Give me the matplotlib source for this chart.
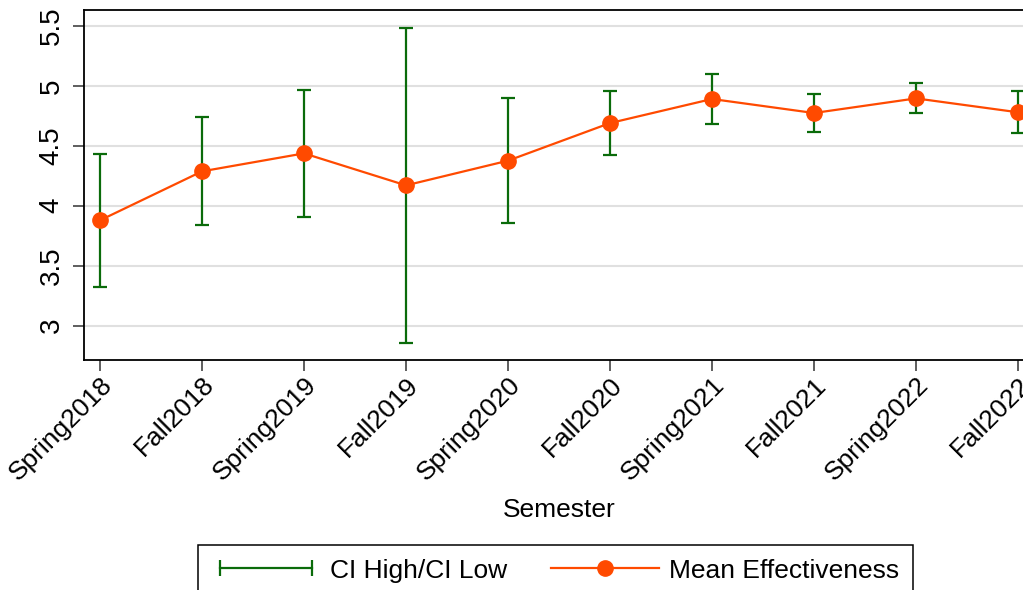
import matplotlib; matplotlib.use("Agg")
import matplotlib.pyplot as plt
from matplotlib.lines import Line2D
from matplotlib.legend_handler import HandlerLine2D

semesters = ["Spring2018", "Fall2018", "Spring2019", "Fall2019", "Spring2020",
             "Fall2020", "Spring2021", "Fall2021", "Spring2022", "Fall2022"]
mean_eff = [3.878, 4.287, 4.437, 4.170, 4.376, 4.690, 4.891, 4.774, 4.896, 4.780]
ci_high  = [4.434, 4.738, 4.968, 5.483, 4.902, 4.955, 5.099, 4.930, 5.024, 4.957]
ci_low   = [3.319, 3.842, 3.908, 2.854, 3.853, 4.426, 4.684, 4.618, 4.771, 4.604]
yticks = [3, 3.5, 4, 4.5, 5, 5.5]
ytick_labels = ["3", "3.5", "4", "4.5", "5", "5.5"]

GREEN = "#0a6b0a"; ORANGE = "#ff4a00"
plt.rcParams["font.family"] = ["Liberation Sans", "DejaVu Sans"]

W, H = 1023, 590
fig = plt.figure(figsize=(W/100, H/100), dpi=100)
# plot region runs past the right edge of the image, as in the reference
ax = fig.add_axes([84/W, 1-360/H, (1034-84)/W, (360-10)/H])

x = list(range(len(semesters)))
yerr = [[m-l for m, l in zip(mean_eff, ci_low)], [h-m for m, h in zip(mean_eff, ci_high)]]
ax.errorbar(x, mean_eff, yerr=yerr, fmt="none", ecolor=GREEN, elinewidth=1.6,
            capsize=5, capthick=1.6, zorder=2)
ax.plot(x, mean_eff, "o-", color=ORANGE, lw=1.6, ms=11, zorder=3)

ax.set_xlim(-0.157, 9.157)
ax.set_ylim(2.712, 5.634)
ax.set_yticks(yticks)
ax.set_yticklabels(ytick_labels, rotation=90, va="center", fontsize=20)
ax.set_xticks(x)
ax.set_xticklabels(semesters, rotation=45, ha="right", va="top",
                   rotation_mode="anchor", fontsize=19)
ax.tick_params(axis="both", direction="out", length=8, width=1.1, color="#333333")
ax.tick_params(axis="x", pad=1)
ax.tick_params(axis="y", pad=6)
ax.grid(axis="y", color="#e0e0e0", lw=1.5)
ax.set_axisbelow(True)
for s in ax.spines.values():
    s.set_linewidth(1.3); s.set_color("black")
fig.text(559/W, 1-510/H, "Semester", ha="center", va="center", fontsize=19)

ci_line = Line2D([0, 1], [0, 0], color=GREEN, lw=1.6, marker="|", ms=12, mew=1.6)
mean_line = Line2D([], [], color=ORANGE, lw=1.6, marker="o", ms=11)
leg = fig.legend([ci_line, mean_line], ["CI High/CI Low", "Mean Effectiveness"],
                 loc="upper left", bbox_to_anchor=(198/W, 1-545/H), ncol=2,
                 fontsize=19, frameon=True, fancybox=False, edgecolor="black",
                 framealpha=1, handlelength=4.1, handletextpad=0.4,
                 columnspacing=1.63, borderpad=0.52, borderaxespad=0,
                 handler_map={ci_line: HandlerLine2D(numpoints=2)})
leg.get_frame().set_linewidth(1.1)

fig.savefig("out.png", dpi=100)
